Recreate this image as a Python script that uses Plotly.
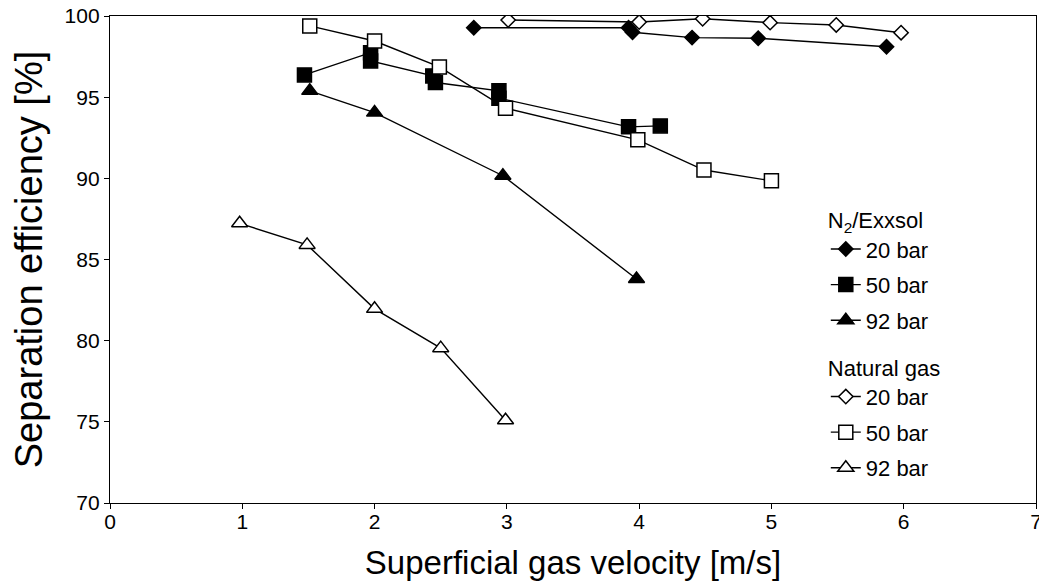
"""Separation efficiency vs superficial gas velocity."""

import plotly.graph_objects as go

# N2/Exxsol series
n2_20_x = [2.75, 3.92, 3.95, 4.40, 4.90, 5.87]
n2_20_y = [99.28, 99.28, 99.0, 98.67, 98.63, 98.11]

n2_50_x = [1.47, 1.97, 1.97, 2.44, 2.46, 2.94, 2.94, 3.92, 4.16]
n2_50_y = [96.37, 97.74, 97.23, 96.31, 95.9, 95.39, 94.94, 93.17, 93.23]

n2_92_x = [1.51, 2.0, 2.97, 3.98]
n2_92_y = [95.39, 94.05, 90.16, 83.8]

# Natural gas series
ng_20_x = [3.01, 4.0, 4.48, 4.99, 5.49, 5.98]
ng_20_y = [99.75, 99.63, 99.83, 99.59, 99.45, 98.97]

ng_50_x = [1.51, 2.0, 2.49, 2.99, 3.99, 4.49, 5.0]
ng_50_y = [99.39, 98.46, 96.86, 94.32, 92.37, 90.51, 89.85]

ng_92_x = [0.98, 1.49, 2.0, 2.5, 2.99]
ng_92_y = [87.23, 85.9, 81.96, 79.54, 75.1]

x_ticks = [0, 1, 2, 3, 4, 5, 6, 7]
y_ticks = [70, 75, 80, 85, 90, 95, 100]

FONT = "Liberation Sans, Arial, sans-serif"

series = [
    (n2_20_x, n2_20_y, "20 bar", "diamond", 11, True, "legend"),
    (n2_50_x, n2_50_y, "50 bar", "square", 14, True, "legend"),
    (n2_92_x, n2_92_y, "92 bar", "triangle-up", 14, True, "legend"),
    (ng_20_x, ng_20_y, "20 bar", "diamond", 11, False, "legend2"),
    (ng_50_x, ng_50_y, "50 bar", "square", 14, False, "legend2"),
    (ng_92_x, ng_92_y, "92 bar", "triangle-up", 14, False, "legend2"),
]

fig = go.Figure()
for i, (xs, ys, name, sym, size, filled, leg) in enumerate(series):
    fig.add_trace(go.Scatter(
        x=xs, y=ys, mode="lines+markers", name=name, legend=leg,
        legendgroup=f"g{i}",
        line=dict(color="black", width=1.4),
        marker=dict(symbol=sym, size=size, color="black" if filled else "white",
                    line=dict(color="black", width=1.5)),
    ))

axis_common = dict(
    showline=True, linecolor="black", linewidth=1.4, mirror=True,
    showgrid=False, zeroline=False, ticks="outside", ticklen=5,
    tickcolor="black", tickwidth=1.4, automargin=False,
    ticklabeloverflow="allow",
    tickfont=dict(size=21, color="black", family=FONT),
)

legend_common = dict(
    xanchor="left", yanchor="top", bgcolor="rgba(0,0,0,0)", tracegroupgap=4,
    font=dict(size=22, color="black", family=FONT),
)

fig.update_layout(
    width=1047, height=585,
    margin=dict(l=102, r=19, t=8, b=90),
    paper_bgcolor="white", plot_bgcolor="white",
    font=dict(family=FONT, color="black"),
    xaxis=dict(range=[0, 7], tickvals=x_ticks, ticklabelstandoff=-5,
               title=dict(text="Superficial gas velocity [m/s]", font=dict(size=33), standoff=18),
               **axis_common),
    yaxis=dict(range=[70, 100], tickvals=y_ticks,
               title=dict(text="Separation efficiency [%]", font=dict(size=38), standoff=14),
               **axis_common),
    showlegend=True,
    legend=dict(x=0.773, y=0.623,
                title=dict(text="N<sub>2</sub>/Exxsol", font=dict(size=22, family=FONT)),
                **legend_common),
    legend2=dict(x=0.773, y=0.32,
                 title=dict(text="Natural gas", font=dict(size=22, family=FONT)),
                 **legend_common),
)

fig.write_html("out.html")
